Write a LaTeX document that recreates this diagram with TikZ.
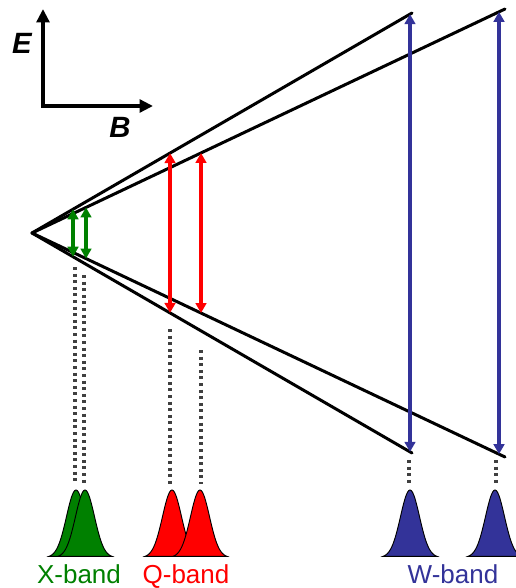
\documentclass[tikz,border=0pt]{standalone}
\usepackage{fontspec}
\setmainfont{Liberation Sans}
\usepackage{tikz}
\usetikzlibrary{arrows.meta,calc}
\definecolor{xgreen}{RGB}{0,128,0}
\definecolor{qred}{RGB}{255,0,0}
\definecolor{wblue}{RGB}{51,51,153}

\begin{document}
\begin{tikzpicture}[
  x=0.75pt, y=-0.75pt,
  every node/.style={align=center, inner sep=0pt},
  level/.style={draw=black, line width=2.25pt, line cap=round},
  axis/.style={draw=black, line width=3pt, line join=miter,
               {Triangle[length=10pt,width=9.5pt]}-{Triangle[length=10pt,width=9.5pt]}},
  band/.style={line width=2.7pt,
               {Triangle[length=7.5pt,width=8pt]}-{Triangle[length=7.5pt,width=8pt]}},
  guide/.style={draw=black!75, line width=2.4pt, dash pattern=on 2.25pt off 2.7pt},
  peak/.style={draw=black, line width=0.7pt},
  axlab/.style={font=\fontsize{22}{22}\selectfont\bfseries\itshape},
  lbl/.style={font=\fontsize{19.5}{20}\selectfont, anchor=base},
]
\useasboundingbox (0,0) rectangle (516,588);

% ---------- axes ----------
\coordinate (ax) at (43,106);
\draw[axis] (43,9) -- (ax) -- (153,106);
\node[axlab] (elab) at (22,43) {E};
\node[axlab] (blab) at (120,127) {B};

% ---------- the four levels ----------
\coordinate (O)  at (32,233);
\coordinate (U1) at (412,13);
\coordinate (U2) at (505,9);
\coordinate (L1) at (412,453);
\coordinate (L2) at (505,457);
\foreach \e in {U1,U2,L1,L2}
  \draw[level] (O) -- (\e);

% ---------- transitions ----------
\foreach \t/\a/\b/\col in {
  0.1079/U1/L1/xgreen, 0.1142/U2/L2/xgreen,
  0.3632/U1/L1/qred,   0.3573/U2/L2/qred,
  0.9947/U1/L1/wblue,  0.9873/U2/L2/wblue} {
  \draw[band, draw=\col, fill=\col] ($(O)!\t!(\a)$) -- ($(O)!\t!(\b)$);
}

% ---------- guides down to the spectra ----------
\foreach \x/\top in {75/267, 84/275, 170/329, 201/350, 409/460, 496/460}
  \draw[guide] (\x,\top) -- (\x,484);

% ---------- spectra ----------
\foreach \c/\col in {76/xgreen, 85/xgreen, 172/qred, 200/qred, 410/wblue, 495/wblue}
  \filldraw[peak, fill=\col] plot[domain=\c-27:\c+27, samples=70]
    (\x, {557.5-67.5*exp(-((\x-\c)/9.5)^2/2)}) -- cycle;

\node[lbl, text=xgreen] (xlab) at (79,583)  {X-band};
\node[lbl, text=qred]   (qlab) at (186,583) {Q-band};
\node[lbl, text=wblue]  (wlab) at (453,583) {W-band};
\end{tikzpicture}
\end{document}
